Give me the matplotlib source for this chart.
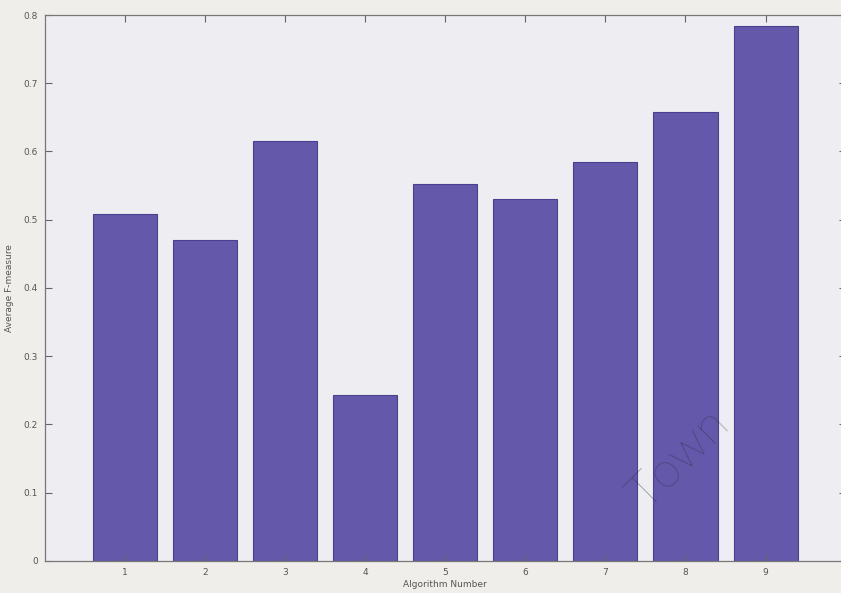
import matplotlib
matplotlib.use('Agg')
import matplotlib.pyplot as plt

# average F-measure per algorithm
algorithms = [1, 2, 3, 4, 5, 6, 7, 8, 9]
fmeasure = [0.508, 0.470, 0.615, 0.243, 0.552, 0.530, 0.585, 0.658, 0.784]
yticks = [0, 0.1, 0.2, 0.3, 0.4, 0.5, 0.6, 0.7, 0.8]

fig = plt.figure(figsize=(8.41, 5.93), dpi=100, facecolor='#efeeea')
ax = fig.add_axes([0.0535, 0.054, 0.952, 0.9207])
ax.set_facecolor('#eeeef2')

ax.bar(algorithms, fmeasure, width=0.8, color='#6358aa', edgecolor='#4a4090', linewidth=0.8)

ax.set_xlim(0, 10)
ax.set_ylim(0, 0.8)
ax.set_xticks(algorithms)
ax.set_yticks(yticks)
ax.set_yticklabels(['0'] + ['%.1f' % v for v in yticks[1:]])
ax.tick_params(direction='in', length=5, width=0.8, colors='#666666', labelsize=6.5,
               top=True, right=True, labelcolor='#555555', pad=5)
for s in ax.spines.values():
    s.set_color('#777777')
    s.set_linewidth(0.9)

ax.set_xlabel('Algorithm Number', fontsize=6.5, color='#555555', labelpad=2)
ax.set_ylabel('Average F-measure', fontsize=6.5, color='#555555', labelpad=7)

# thesis watermark
fig.text(0.808, 0.224, 'Town', fontsize=36, color='#2a2a3a', alpha=0.6,
         rotation=45, ha='center', va='center', family='Lato', fontweight='light')

fig.savefig('out.png', dpi=100, facecolor=fig.get_facecolor())
